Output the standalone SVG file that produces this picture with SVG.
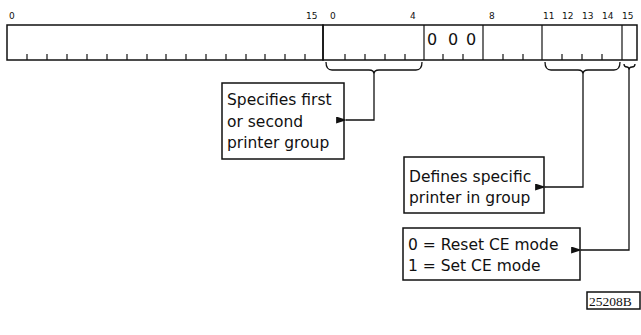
<svg xmlns="http://www.w3.org/2000/svg" width="641" height="335" viewBox="0 0 641 335">
<defs>
<style>
.bx{fill:none;stroke:#111;stroke-width:1.5}
.tk{stroke:#111;stroke-width:1.2}
.ln{fill:none;stroke:#111;stroke-width:1.3}
.num{font-family:"DejaVu Sans",sans-serif;font-size:9px;fill:#111}
.lbl{font-family:"DejaVu Sans",sans-serif;font-size:15.5px;fill:#111}
.zero{font-family:"DejaVu Sans",sans-serif;font-size:16px;fill:#111}
.ref{font-family:"Liberation Serif",serif;font-size:13.5px;fill:#111}
</style>
<marker id="ah" viewBox="0 0 10 10" refX="1" refY="5" markerWidth="11" markerHeight="7" markerUnits="userSpaceOnUse" orient="auto" preserveAspectRatio="none">
<path d="M10,0 L0,5 L10,10 z" fill="#111"/>
</marker>
</defs>
<g id="word1">
<rect class="bx" x="7" y="25" width="316" height="35"/>
<g class="tk">
<line x1="27" y1="54" x2="27" y2="60"/><line x1="47" y1="54" x2="47" y2="60"/><line x1="67" y1="54" x2="67" y2="60"/><line x1="87" y1="54" x2="87" y2="60"/><line x1="107" y1="54" x2="107" y2="60"/><line x1="127" y1="54" x2="127" y2="60"/><line x1="147" y1="54" x2="147" y2="60"/><line x1="166" y1="54" x2="166" y2="60"/><line x1="186" y1="54" x2="186" y2="60"/><line x1="206" y1="54" x2="206" y2="60"/><line x1="226" y1="54" x2="226" y2="60"/><line x1="246" y1="54" x2="246" y2="60"/><line x1="265" y1="54" x2="265" y2="60"/><line x1="285" y1="54" x2="285" y2="60"/><line x1="305" y1="54" x2="305" y2="60"/>
</g>
<text class="num" x="9" y="19">0</text>
<text class="num" x="306" y="19">15</text>
</g>
<g id="word2">
<rect class="bx" x="323" y="25" width="314" height="35"/>
<g class="tk">
<line x1="424" y1="25" x2="424" y2="60"/><line x1="483" y1="25" x2="483" y2="60"/><line x1="542" y1="25" x2="542" y2="60"/><line x1="622" y1="25" x2="622" y2="60"/>
<line x1="345" y1="54" x2="345" y2="60"/><line x1="365" y1="54" x2="365" y2="60"/><line x1="385" y1="54" x2="385" y2="60"/><line x1="405" y1="54" x2="405" y2="60"/>
<line x1="443" y1="54" x2="443" y2="60"/><line x1="463" y1="54" x2="463" y2="60"/>
<line x1="503" y1="54" x2="503" y2="60"/><line x1="523" y1="54" x2="523" y2="60"/>
<line x1="562" y1="54" x2="562" y2="60"/><line x1="582" y1="54" x2="582" y2="60"/><line x1="602" y1="54" x2="602" y2="60"/>
</g>
<text class="num" x="330" y="19">0</text>
<text class="num" x="410" y="19">4</text>
<text class="num" x="489" y="19">8</text>
<text class="num" x="543" y="19">11</text>
<text class="num" x="562" y="19">12</text>
<text class="num" x="582" y="19">13</text>
<text class="num" x="602" y="19">14</text>
<text class="num" x="622" y="19">15</text>
<text class="zero" x="427" y="45">0</text>
<text class="zero" x="448" y="45">0</text>
<text class="zero" x="466" y="45">0</text>
</g>
<g id="connectors">
<path class="ln" d="M326,62 Q326,70 332,70 L369,70 Q374,70 374,74 Q374,70 379,70 L416,70 Q422,70 422,62"/>
<path class="ln" d="M374,74 L374,120 L346,120" marker-end="url(#ah)"/>
<path class="ln" d="M545,62 Q545,70 551,70 L578,70 Q583,70 583,74 Q583,70 588,70 L614,70 Q620,70 620,62"/>
<path class="ln" d="M583,74 L583,187 L545,187" marker-end="url(#ah)"/>
<path class="ln" d="M624,64 Q624,67 627,67 Q629,67 629,70 Q629,67 632,67 Q635,67 635,64"/>
<path class="ln" d="M629,70 L629,250 L581,250" marker-end="url(#ah)"/>
</g>
<g id="box1">
<rect class="bx" x="222" y="83" width="122" height="76"/>
<text class="lbl" x="227" y="105">Specifies first</text>
<text class="lbl" x="227" y="127">or second</text>
<text class="lbl" x="227" y="148">printer group</text>
</g>
<g id="box2">
<rect class="bx" x="404" y="157" width="140" height="56"/>
<text class="lbl" x="409" y="182">Defines specific</text>
<text class="lbl" x="409" y="203">printer in group</text>
</g>
<g id="box3">
<rect class="bx" x="403" y="228" width="177" height="52"/>
<text class="lbl" x="408" y="250">0 = Reset CE mode</text>
<text class="lbl" x="408" y="271">1 = Set CE mode</text>
</g>
<g id="ref">
<rect class="bx" x="587" y="292" width="53" height="17" stroke-width="1"/>
<text class="ref" x="589" y="305.5">25208B</text>
</g>
</svg>
